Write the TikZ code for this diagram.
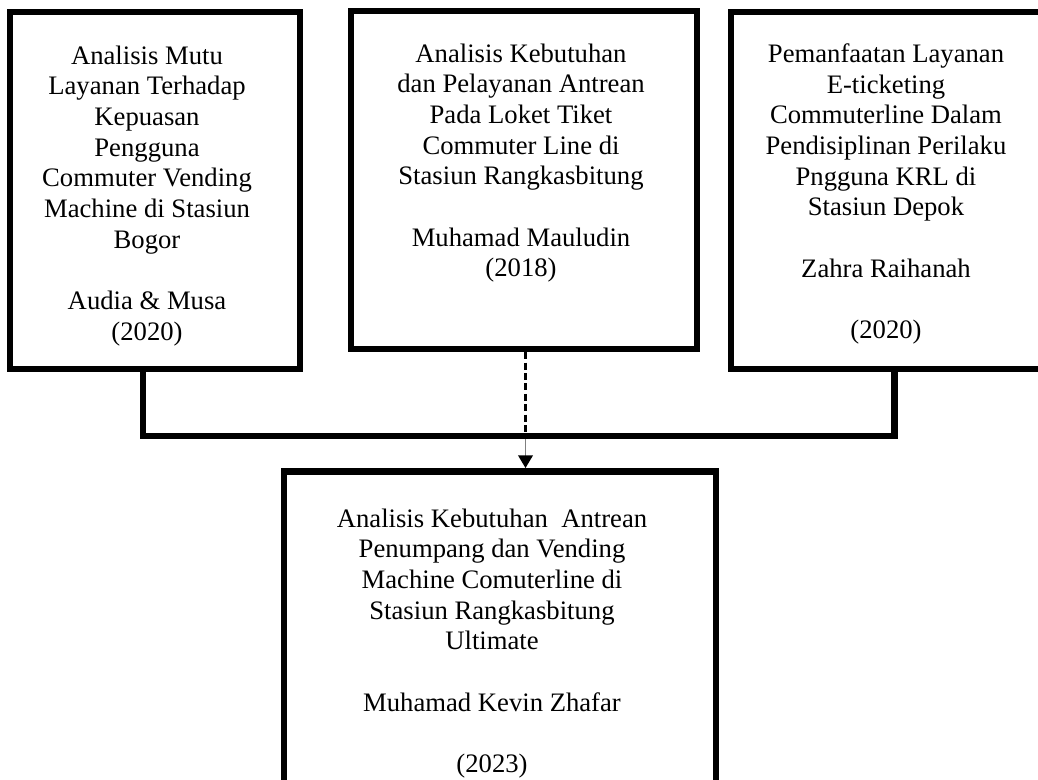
\documentclass[tikz,border=0pt]{standalone}
\usepackage{fontspec}
\setmainfont{Liberation Serif}
\usetikzlibrary{arrows.meta,calc}
\begin{document}
\begin{tikzpicture}[x=0.75pt,y=-0.75pt,
  boxnode/.style={draw=black,line width=4.8pt,rectangle,inner sep=0pt,outer sep=0pt,fill=white},
  txt/.style={font=\fontsize{20pt}{23pt}\selectfont,align=center,inner sep=0pt,anchor=north},
  bracket/.style={line width=4.6pt,line join=miter},
  dashconn/.style={line width=1.75pt,dash pattern=on 5.2pt off 2.6pt},
  arrowconn/.style={draw=gray,line width=1.1pt,-{Triangle[length=9.5pt,width=11pt,fill=black,color=black]}}
]
\useasboundingbox (0,0) rectangle (1038,780);
\clip (0,0) rectangle (1038,780);
\fill[white] (0,0) rectangle (1038,780);

% boxes (path coordinates in px)
\node[boxnode,minimum width=290*0.75pt,minimum height=357*0.75pt] (b1) at (155,190.5) {};
\node[boxnode,minimum width=346*0.75pt,minimum height=338*0.75pt] (b2) at (524,180) {};
\node[boxnode,minimum width=320*0.75pt,minimum height=357*0.75pt] (b3) at (891,190.5) {};
\node[boxnode,minimum width=432*0.75pt,minimum height=340*0.75pt] (b4) at (500,641.5) {};

% texts
\node[txt] (t1) at (147,45.5) {Analisis Mutu\\Layanan Terhadap\\Kepuasan\\Pengguna\\Commuter Vending\\Machine di Stasiun\\Bogor\\\\Audia \& Musa\\(2020)};
\node[txt] (t2) at (521,43.5) {Analisis Kebutuhan\\dan Pelayanan Antrean\\Pada Loket Tiket\\Commuter Line di\\Stasiun Rangkasbitung\\\\Muhamad Mauludin\\(2018)};
\node[txt] (t3) at (886,43.5) {Pemanfaatan Layanan\\E-ticketing\\Commuterline Dalam\\Pendisiplinan Perilaku\\Pngguna KRL di\\Stasiun Depok\\\\Zahra Raihanah\\\\(2020)};
\node[txt] (t4) at (492,508.5) {Analisis Kebutuhan\ \ Antrean\\Penumpang dan Vending\\Machine Comuterline di\\Stasiun Rangkasbitung\\Ultimate\\\\Muhamad Kevin Zhafar\\\\(2023)};

% connectors
\coordinate (j1) at (143,436);
\coordinate (j3) at (894.5,436);
\coordinate (jm) at ($(b2.south |- j1)+(1.5,0)$);
\coordinate (b4in) at (jm |- b4.north);
\draw[arrowconn,shorten >=2.6pt] (jm) -- (b4in);
\draw[dashconn,shorten <=2.4pt] ($(b2.south)+(1.5,0)$) -- (jm);
\draw[bracket] (j1 |- b1.south) -- (j1) -- (j3) -- (j3 |- b3.south);
\end{tikzpicture}
\end{document}
